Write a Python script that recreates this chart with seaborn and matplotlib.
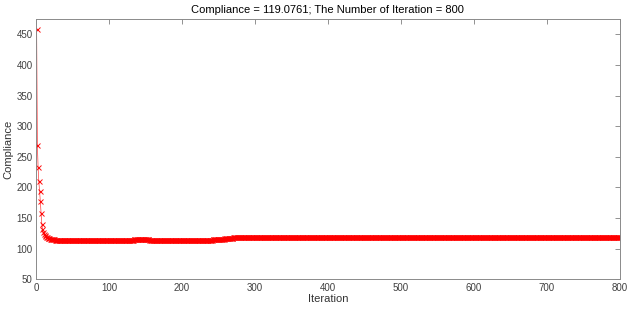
import numpy as np
import pandas as pd
import matplotlib
matplotlib.use("Agg")
import matplotlib.pyplot as plt
import seaborn as sns

title_text = "Compliance = 119.0761; The Number of Iteration = 800"
x_label = "Iteration"
y_label = "Compliance"
x_ticks = [0, 100, 200, 300, 400, 500, 600, 700, 800]
y_ticks = [50, 100, 150, 200, 250, 300, 350, 400, 450]

compliance_1_100 = [
    459.0, 268.7, 232.7, 209.8, 193.4, 178.2, 158.0, 140.5, 131.9, 127.0, 124.2, 122.3, 120.8, 119.6, 118.7, 118.0, 117.4, 116.9, 116.5, 116.1,
    115.8, 115.6, 115.4, 115.2, 115.0, 114.9, 114.8, 114.7, 114.6, 114.5, 114.4, 114.3, 114.2, 114.2, 114.1, 114.0, 114.0, 113.9, 113.9, 113.8,
    113.8, 113.8, 113.7, 113.8, 113.9, 114.0, 114.0, 114.1, 114.1, 114.0, 114.0, 113.9, 113.9, 113.8, 113.8, 113.7, 113.7, 113.7, 113.6, 113.6,
    113.6, 113.6, 113.5, 113.5, 113.5, 113.5, 113.4, 113.4, 113.4, 113.4, 113.4, 113.3, 113.3, 113.3, 113.3, 113.3, 113.3, 113.3, 113.3, 113.3,
    113.3, 113.3, 113.3, 113.4, 113.4, 113.4, 113.4, 113.4, 113.4, 113.4, 113.5, 113.5, 113.5, 113.5, 113.5, 113.5, 113.5, 113.6, 113.6, 113.6,
]
compliance_101_200 = [
    113.6, 113.6, 113.7, 113.7, 113.7, 113.7, 113.8, 113.8, 113.8, 113.9, 113.9, 113.9, 114.0, 114.0, 114.0, 114.1, 114.1, 114.2, 114.2, 114.3,
    114.3, 114.4, 114.4, 114.5, 114.5, 114.6, 114.6, 114.7, 114.7, 114.8, 114.8, 114.9, 114.9, 115.0, 115.0, 115.0, 115.1, 115.1, 115.1, 115.1,
    115.1, 115.2, 115.2, 115.2, 115.2, 115.2, 115.1, 115.1, 115.1, 115.1, 115.0, 115.0, 115.0, 115.0, 114.9, 114.9, 114.9, 114.9, 114.8, 114.8,
    114.8, 114.7, 114.7, 114.7, 114.6, 114.6, 114.6, 114.5, 114.5, 114.5, 114.4, 114.4, 114.4, 114.3, 114.3, 114.3, 114.2, 114.2, 114.2, 114.1,
    114.1, 114.1, 114.1, 114.0, 114.0, 114.0, 114.0, 113.9, 113.9, 113.9, 113.9, 113.9, 113.8, 113.8, 113.8, 113.8, 113.8, 113.8, 113.8, 113.8,
]
compliance_201_300 = [
    113.8, 113.8, 113.8, 113.8, 113.8, 113.8, 113.9, 113.9, 113.9, 113.9, 113.9, 113.9, 114.0, 114.0, 114.0, 114.0, 114.0, 114.1, 114.1, 114.1,
    114.1, 114.2, 114.2, 114.2, 114.3, 114.3, 114.3, 114.4, 114.4, 114.4, 114.5, 114.5, 114.5, 114.6, 114.6, 114.7, 114.7, 114.8, 114.8, 114.9,
    114.9, 115.0, 115.1, 115.1, 115.2, 115.3, 115.4, 115.5, 115.6, 115.7, 115.8, 115.9, 116.0, 116.1, 116.2, 116.4, 116.5, 116.6, 116.7, 116.9,
    117.0, 117.1, 117.3, 117.4, 117.5, 117.7, 117.8, 117.9, 118.0, 118.2, 118.3, 118.4, 118.5, 118.6, 118.7, 118.8, 118.9, 118.9, 119.0, 119.1,
    119.1, 119.2, 119.2, 119.3, 119.3, 119.4, 119.4, 119.4, 119.5, 119.5, 119.5, 119.5, 119.6, 119.6, 119.6, 119.6, 119.6, 119.6, 119.6, 119.6,
]
compliance_301_400 = [
    119.6, 119.6, 119.6, 119.6, 119.6, 119.6, 119.6, 119.6, 119.6, 119.6, 119.6, 119.6, 119.6, 119.6, 119.6, 119.6, 119.6, 119.6, 119.6, 119.6,
    119.6, 119.6, 119.6, 119.6, 119.6, 119.5, 119.5, 119.5, 119.5, 119.5, 119.5, 119.5, 119.5, 119.5, 119.5, 119.5, 119.5, 119.5, 119.5, 119.5,
    119.5, 119.5, 119.5, 119.5, 119.5, 119.5, 119.5, 119.5, 119.5, 119.5, 119.5, 119.5, 119.5, 119.5, 119.5, 119.5, 119.5, 119.5, 119.5, 119.5,
    119.5, 119.5, 119.5, 119.5, 119.5, 119.6, 119.6, 119.6, 119.6, 119.6, 119.6, 119.6, 119.6, 119.6, 119.6, 119.6, 119.6, 119.6, 119.6, 119.6,
    119.6, 119.6, 119.6, 119.7, 119.7, 119.7, 119.7, 119.7, 119.7, 119.7, 119.7, 119.7, 119.7, 119.7, 119.7, 119.7, 119.7, 119.7, 119.7, 119.7,
]
compliance_401_500 = [
    119.7, 119.7, 119.7, 119.7, 119.7, 119.7, 119.7, 119.7, 119.7, 119.7, 119.7, 119.7, 119.7, 119.7, 119.7, 119.7, 119.6, 119.6, 119.6, 119.6,
    119.6, 119.6, 119.6, 119.6, 119.6, 119.6, 119.6, 119.6, 119.6, 119.6, 119.6, 119.6, 119.6, 119.6, 119.6, 119.6, 119.6, 119.5, 119.5, 119.5,
    119.5, 119.5, 119.5, 119.5, 119.5, 119.5, 119.5, 119.5, 119.5, 119.5, 119.5, 119.5, 119.5, 119.5, 119.5, 119.5, 119.5, 119.5, 119.5, 119.5,
    119.5, 119.5, 119.5, 119.5, 119.5, 119.5, 119.5, 119.5, 119.5, 119.5, 119.5, 119.5, 119.5, 119.5, 119.5, 119.5, 119.5, 119.5, 119.5, 119.5,
    119.5, 119.5, 119.5, 119.5, 119.5, 119.5, 119.5, 119.5, 119.5, 119.5, 119.5, 119.5, 119.5, 119.5, 119.5, 119.5, 119.5, 119.5, 119.5, 119.5,
]
compliance_501_600 = [
    119.5, 119.5, 119.5, 119.5, 119.5, 119.5, 119.5, 119.5, 119.5, 119.5, 119.5, 119.5, 119.5, 119.5, 119.5, 119.5, 119.5, 119.5, 119.5, 119.5,
    119.4, 119.4, 119.4, 119.4, 119.4, 119.4, 119.4, 119.4, 119.4, 119.4, 119.4, 119.4, 119.4, 119.4, 119.4, 119.4, 119.4, 119.4, 119.4, 119.4,
    119.4, 119.4, 119.4, 119.4, 119.4, 119.4, 119.4, 119.4, 119.4, 119.4, 119.4, 119.4, 119.4, 119.4, 119.4, 119.4, 119.4, 119.4, 119.4, 119.4,
    119.4, 119.4, 119.4, 119.4, 119.4, 119.4, 119.4, 119.4, 119.4, 119.4, 119.3, 119.3, 119.3, 119.3, 119.3, 119.3, 119.3, 119.3, 119.3, 119.3,
    119.3, 119.3, 119.3, 119.3, 119.3, 119.3, 119.3, 119.3, 119.3, 119.3, 119.3, 119.3, 119.3, 119.3, 119.3, 119.3, 119.3, 119.3, 119.3, 119.3,
]
compliance_601_700 = [
    119.3, 119.3, 119.3, 119.3, 119.3, 119.3, 119.3, 119.3, 119.3, 119.3, 119.3, 119.3, 119.3, 119.3, 119.3, 119.3, 119.3, 119.3, 119.3, 119.3,
    119.3, 119.3, 119.3, 119.3, 119.3, 119.3, 119.3, 119.3, 119.3, 119.3, 119.4, 119.4, 119.4, 119.4, 119.4, 119.4, 119.4, 119.4, 119.4, 119.4,
    119.4, 119.4, 119.4, 119.4, 119.4, 119.4, 119.4, 119.4, 119.4, 119.4, 119.4, 119.4, 119.4, 119.4, 119.4, 119.4, 119.4, 119.4, 119.4, 119.4,
    119.3, 119.3, 119.3, 119.3, 119.3, 119.3, 119.3, 119.3, 119.3, 119.3, 119.3, 119.3, 119.3, 119.3, 119.3, 119.3, 119.3, 119.3, 119.3, 119.3,
    119.3, 119.3, 119.3, 119.3, 119.3, 119.3, 119.3, 119.3, 119.3, 119.3, 119.3, 119.3, 119.3, 119.3, 119.3, 119.3, 119.3, 119.3, 119.3, 119.3,
]
compliance_701_800 = [
    119.3, 119.3, 119.3, 119.3, 119.3, 119.3, 119.3, 119.3, 119.3, 119.3, 119.3, 119.3, 119.3, 119.3, 119.3, 119.3, 119.3, 119.3, 119.3, 119.3,
    119.2, 119.2, 119.2, 119.2, 119.2, 119.2, 119.2, 119.2, 119.2, 119.2, 119.2, 119.2, 119.2, 119.2, 119.2, 119.2, 119.2, 119.2, 119.2, 119.2,
    119.2, 119.2, 119.2, 119.2, 119.2, 119.2, 119.2, 119.2, 119.2, 119.2, 119.2, 119.2, 119.2, 119.2, 119.2, 119.2, 119.2, 119.2, 119.2, 119.2,
    119.2, 119.2, 119.2, 119.2, 119.2, 119.2, 119.2, 119.2, 119.2, 119.2, 119.1, 119.1, 119.1, 119.1, 119.1, 119.1, 119.1, 119.1, 119.1, 119.1,
    119.1, 119.1, 119.1, 119.1, 119.1, 119.1, 119.1, 119.1, 119.1, 119.1, 119.1, 119.1, 119.1, 119.1, 119.1, 119.1, 119.1, 119.1, 119.1, 119.08,
]

compliance = (compliance_1_100 + compliance_101_200 + compliance_201_300 + compliance_301_400
              + compliance_401_500 + compliance_501_600 + compliance_601_700 + compliance_701_800)
iterations = list(range(1, len(compliance) + 1))

df = pd.DataFrame({"Iteration": iterations, "Compliance": compliance})

sns.set_style("white")
plt.rcParams["font.family"] = ["Liberation Sans", "DejaVu Sans"]

fig = plt.figure(figsize=(6.3, 3.12), dpi=100)
ax = fig.add_axes([0.057, 0.105, 0.927, 0.834])

sns.lineplot(data=df, x="Iteration", y="Compliance", ax=ax, color="#ff3030",
             linewidth=0.5, marker="x", markersize=3.6, markeredgewidth=0.7,
             markeredgecolor="#ff0000", estimator=None, alpha=0.95)

ax.set_xlim(0, 800)
ax.set_ylim(50, 475)
ax.set_xticks(x_ticks)
ax.set_yticks(y_ticks)
ax.tick_params(axis="both", which="both", direction="in", length=3.5, width=0.6,
               color="#808080", labelsize=7, labelcolor="#404040",
               top=True, right=True, pad=2.5)
for s in ax.spines.values():
    s.set_visible(True)
    s.set_color("#8a8a8a")
    s.set_linewidth(0.7)

ax.set_xlabel(x_label, fontsize=8, color="#333333", labelpad=1)
ax.set_ylabel(y_label, fontsize=8, color="#333333", labelpad=2)
ax.set_title(title_text, fontsize=8, color="#000000", pad=4)

fig.savefig("out.png", dpi=100)
